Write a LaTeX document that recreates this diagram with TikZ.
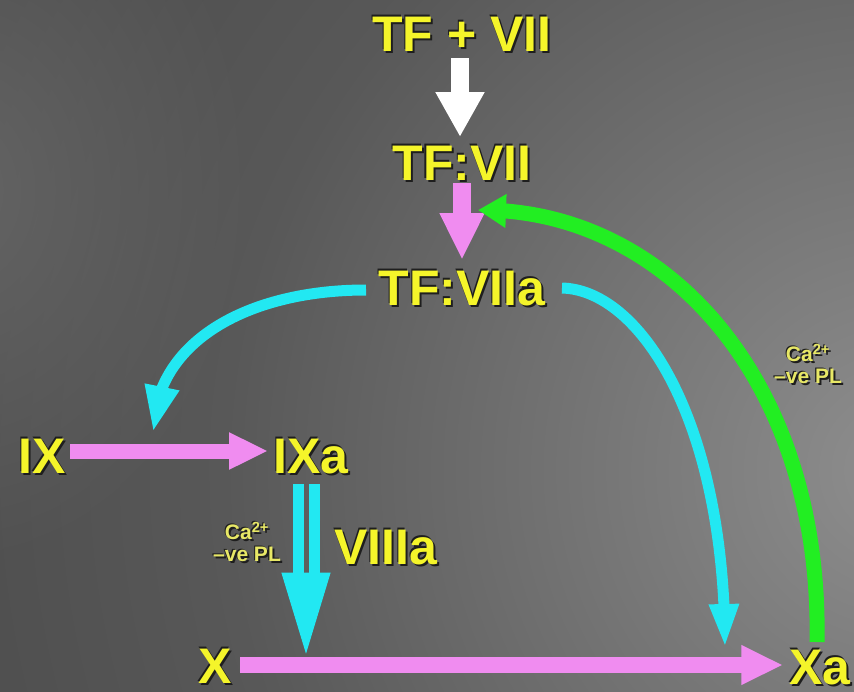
\documentclass[tikz,border=0pt]{standalone}
\usepackage{fontspec}
\setmainfont{Liberation Sans}
\usetikzlibrary{arrows.meta,bending,fadings}
\definecolor{bgA}{HTML}{8E8E8E}
\definecolor{bgB}{HTML}{585858}
\definecolor{bgC}{HTML}{303030}
\definecolor{bgL}{HTML}{646464}
\definecolor{ylw}{HTML}{F5F52A}
\definecolor{ylwpale}{HTML}{E8E866}
\definecolor{pinkc}{HTML}{F08CF0}
\definecolor{cyanc}{HTML}{22E8F2}
\definecolor{greenc}{HTML}{22EE22}
\definecolor{outl}{HTML}{1E1E1E}
\pgfdeclareradialshading{bgshade}{\pgfpoint{0bp}{0bp}}{color(0bp)=(bgA); color(13bp)=(bgB); color(36bp)=(bgC); color(50bp)=(bgC)}
\tikzfading[name=fadeC, inner color=transparent!0, outer color=transparent!100]
\newcommand\duplbl[4]{%
  \foreach \dx/\dy in {2/-2,-1.2/1.2}{%
    \node[#3,text=outl,xshift=\dx pt,yshift=\dy pt] at (#2) {#4};}%
  \node[#3] (#1) at (#2) {#4};}
\begin{document}
\begin{tikzpicture}[x=1pt,y=-1pt,
  biglbl/.style={inner sep=0pt,text=ylw,text height=36pt,text depth=0pt,
    font=\bfseries\fontsize{50}{50}\selectfont},
  smalllbl/.style={inner sep=0pt,text=ylwpale,align=center,
    font=\bfseries\fontsize{21}{22}\selectfont},
  whitearrow/.style={draw=white,line width=18pt,-{Triangle[width=46pt,length=45pt]}},
  pinkarrow/.style={draw=pinkc,line width=#1,-{Triangle[width=2.3*#1,length=2.6*#1]}},
  cyanarrow/.style={draw=cyanc,line width=11pt},
  greenarrow/.style={draw=greenc,line width=15pt,-{Triangle[width=32pt,length=28pt]}}]
\useasboundingbox (0,0) rectangle (854,691);
\begin{scope}
\clip (0,0) rectangle (854,691);
\fill[bgC] (0,0) rectangle (854,691);
\shade[shading=bgshade] (900,470) circle (1300);
\fill[bgL,path fading=fadeC] (-40,190) ellipse [x radius=300, y radius=380];
\end{scope}

% named coordinates for connector ends
\coordinate (w1) at (460,58);   \coordinate (w2) at (460,137);
\coordinate (p1) at (462,183);  \coordinate (p2) at (462,260);
\coordinate (cl1) at (366,290); \coordinate (cl2) at (153,432);
\coordinate (cr1) at (562,288); \coordinate (cr2) at (725,648);
\coordinate (g1) at (817,642);  \coordinate (g2) at (478,210);
\coordinate (ix1) at (70,451);  \coordinate (ix2) at (268,451);
\coordinate (x1) at (240,665);  \coordinate (x2) at (783,665);
\coordinate (d1) at (298,484);  \coordinate (d2) at (298,592);
\coordinate (d3) at (314,484);  \coordinate (d4) at (314,592);
\coordinate (d5) at (306,560);  \coordinate (d6) at (306,652);

% arrows
\draw[whitearrow] (w1) -- (w2);
\draw[pinkarrow=18pt] (p1) -- (p2);
\draw[cyanarrow,-{Triangle[width=32pt,length=46pt]}] (cl1) .. controls (250,290) and (155,340) .. (cl2);
\draw[cyanarrow,-{Triangle[width=27pt,length=44pt]}] (cr1) .. controls (640,290) and (725,420) .. (cr2);
\draw[greenarrow] (g1) .. controls (822,380) and (665,208) .. (g2);
\draw[pinkarrow=15pt] (ix1) -- (ix2);
\draw[pinkarrow=16pt] (x1) -- (x2);
\draw[cyanarrow] (d1) -- (d2);
\draw[cyanarrow] (d3) -- (d4);
\draw[draw=cyanc,line width=1pt,fill=cyanc] (d5) ++(-24,13) -- ++(48,0) -- (d6) -- cycle;

% labels
\duplbl{tfplus}{462,33}{biglbl}{TF + VII}
\duplbl{tfvii}{462,162}{biglbl}{TF:VII}
\duplbl{tfviia}{462,287}{biglbl}{TF:VIIa}
\duplbl{ix}{42,455}{biglbl}{IX}
\duplbl{ixa}{311,455}{biglbl}{IXa}
\duplbl{viiia}{386,546}{biglbl}{VIIIa}
\duplbl{x}{215,665}{biglbl}{X}
\duplbl{xa}{820,666}{biglbl}{Xa}
\duplbl{ca1}{247,542}{smalllbl}{Ca\textsuperscript{2+}\\–ve PL}
\duplbl{ca2}{808,364}{smalllbl}{Ca\textsuperscript{2+}\\–ve PL}
\end{tikzpicture}
\end{document}
